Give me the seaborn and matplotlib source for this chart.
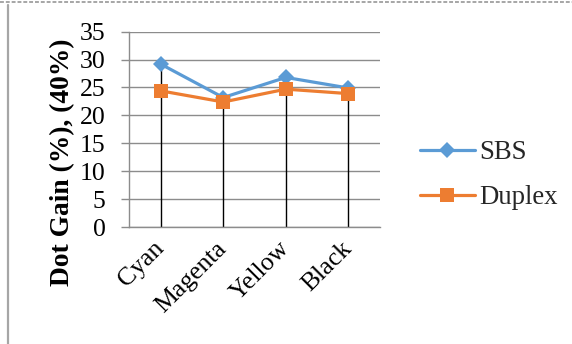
import matplotlib
matplotlib.use("Agg")
import matplotlib.pyplot as plt
from matplotlib.lines import Line2D
import seaborn as sns
import pandas as pd

categories = ["Cyan", "Magenta", "Yellow", "Black"]
sbs = [29.2, 23.2, 26.8, 24.9]
duplex = [24.4, 22.4, 24.7, 23.9]
y_ticks = [0, 5, 10, 15, 20, 25, 30, 35]

sns.set_theme(style="white")
plt.rcParams["font.family"] = ["Liberation Serif", "DejaVu Serif"]

df = pd.DataFrame({
    "Colour": categories * 2,
    "Gain": sbs + duplex,
    "Board": ["SBS"] * 4 + ["Duplex"] * 4,
})

fig = plt.figure(figsize=(5.72, 3.44), dpi=100)
ax = fig.add_axes([0.226, 0.340, 0.438, 0.568])

palette = {"SBS": "#5B9BD5", "Duplex": "#ED7D31"}
markers = {"SBS": "D", "Duplex": "s"}

# drop lines from the higher series down to the axis
pos = list(range(len(categories)))
tops = [max(a, b) for a, b in zip(sbs, duplex)]
ax.vlines(pos, 0, tops, colors="black", linewidth=1.0, zorder=2)

sns.lineplot(data=df, x="Colour", y="Gain", hue="Board", style="Board",
             palette=palette, markers=markers, dashes=False, sort=False,
             linewidth=2.3, markeredgewidth=0, ax=ax, zorder=3)
for line in ax.lines:
    if line.get_marker() == "D":
        line.set_markersize(8.5)
    elif line.get_marker() == "s":
        line.set_markersize(10)

ax.set_xlim(-0.5, 3.5)
ax.set_ylim(0, 35)
ax.set_yticks(y_ticks)
ax.yaxis.grid(True, color="#8C8C8C", linewidth=1.0)
ax.set_axisbelow(True)
for side in ["top", "right"]:
    ax.spines[side].set_visible(False)
for side in ["left", "bottom"]:
    ax.spines[side].set_color("#8C8C8C")
    ax.spines[side].set_linewidth(1.0)

ax.tick_params(axis="y", which="major", left=True, length=6, width=1.0,
               color="#8C8C8C", pad=11, labelsize=18.5, labelcolor="black")
ax.tick_params(axis="x", bottom=False, pad=7, labelsize=18.5, labelcolor="black")
ax.set_xticks(pos)
ax.set_xticklabels(categories, rotation=45, ha="right", va="center",
                   rotation_mode="anchor")

ax.set_xlabel("")
ax.set_ylabel("Dot Gain (%), (40%)", fontsize=19.8, fontweight="bold",
              color="black")
ax.yaxis.set_label_coords(-0.215, 0.33)

handles, labels = ax.get_legend_handles_labels()
leg = ax.legend(handles, labels, loc="center left", bbox_to_anchor=(1.16, 0.266),
                frameon=False, fontsize=19.3, handlelength=2.05, handletextpad=0.15,
                labelspacing=0.75, borderpad=0, borderaxespad=0)
for h in leg.legend_handles:
    h.set_linewidth(2.3)

# outer frame strokes
fig.add_artist(Line2D([7.5 / 572, 7.5 / 572], [0, 1 - 5 / 344],
                      transform=fig.transFigure, color="#A6A6A6", linewidth=1.6))
fig.add_artist(Line2D([0, 1], [1 - 1.5 / 344, 1 - 1.5 / 344],
                      transform=fig.transFigure, color="#A6A6A6", linewidth=1.4,
                      linestyle=(0, (2, 1))))

fig.savefig("out.png", dpi=100)
